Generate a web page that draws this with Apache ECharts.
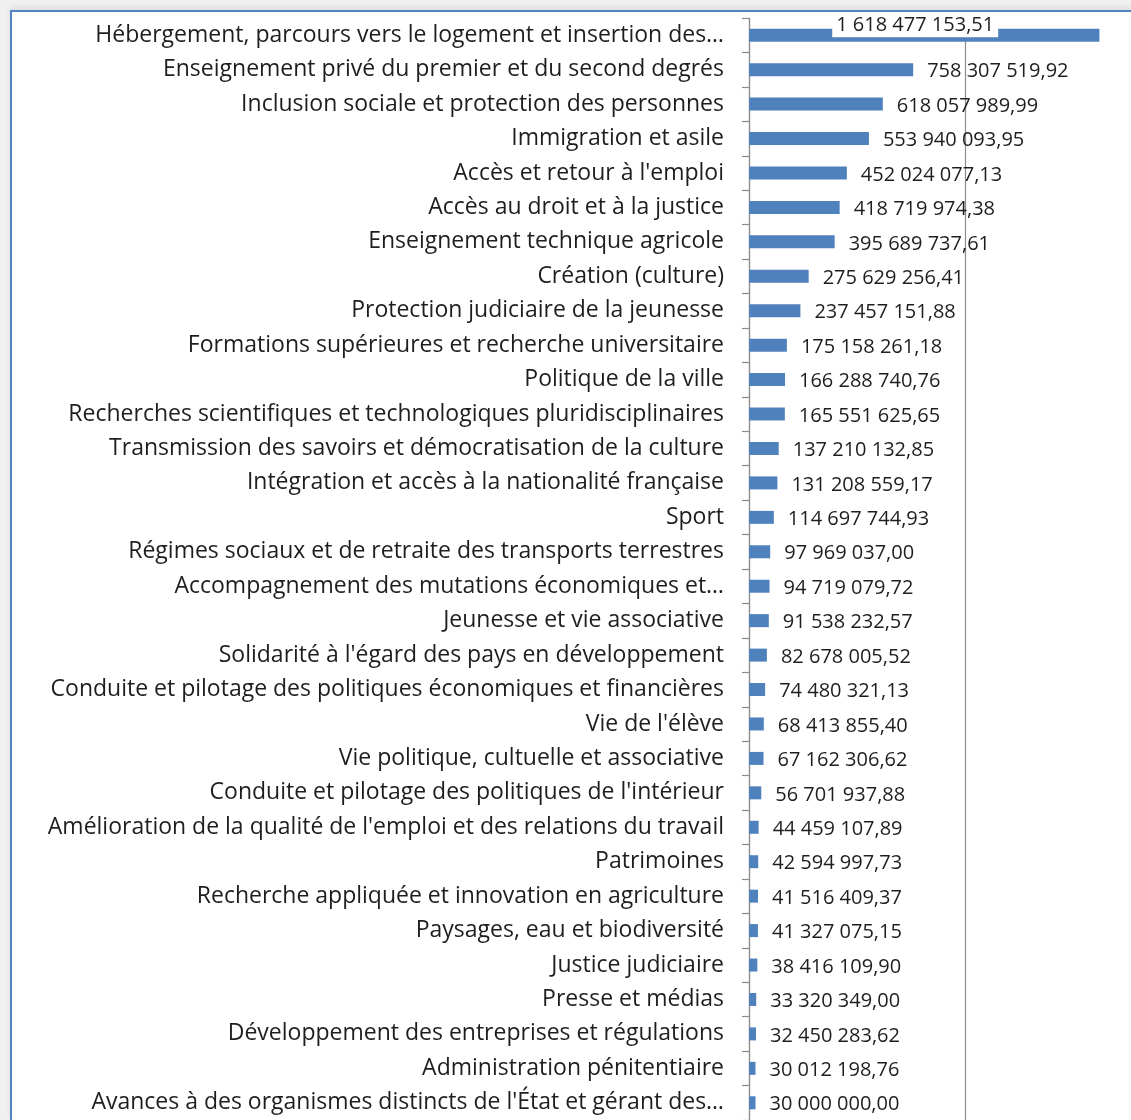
<!DOCTYPE html>
<html><head><meta charset="utf-8">
<script src="https://cdn.jsdelivr.net/npm/echarts@6/dist/echarts.min.js"></script>
<style>
html,body{margin:0;padding:0;width:1131px;height:1120px;background:#f0f0f0;overflow:hidden;}
#frame{position:absolute;left:10px;top:10px;width:1121px;height:1110px;background:#fff;border-left:2px solid #5282bf;border-top:2px solid #5282bf;box-sizing:border-box;box-shadow:0 -3px 6px rgba(0,0,0,0.08);}
#chart{position:absolute;left:0;top:0;width:1200px;height:1120px;}
</style></head><body>
<div id="frame"></div>
<div id="chart"></div>
<script>
const categories = [
"Hébergement, parcours vers le logement et insertion des…",
"Enseignement privé du premier et du second degrés",
"Inclusion sociale et protection des personnes",
"Immigration et asile",
"Accès et retour à l'emploi",
"Accès au droit et à la justice",
"Enseignement technique agricole",
"Création (culture)",
"Protection judiciaire de la jeunesse",
"Formations supérieures et recherche universitaire",
"Politique de la ville",
"Recherches scientifiques et technologiques pluridisciplinaires",
"Transmission des savoirs et démocratisation de la culture",
"Intégration et accès à la nationalité française",
"Sport",
"Régimes sociaux et de retraite des transports terrestres",
"Accompagnement des mutations économiques et…",
"Jeunesse et vie associative",
"Solidarité à l'égard des pays en développement",
"Conduite et pilotage des politiques économiques et financières",
"Vie de l'élève",
"Vie politique, cultuelle et associative",
"Conduite et pilotage des politiques de l'intérieur",
"Amélioration de la qualité de l'emploi et des relations du travail",
"Patrimoines",
"Recherche appliquée et innovation en agriculture",
"Paysages, eau et biodiversité",
"Justice judiciaire",
"Presse et médias",
"Développement des entreprises et régulations",
"Administration pénitentiaire",
"Avances à des organismes distincts de l'État et gérant des…"
];
const values = [
1618477153.51, 758307519.92, 618057989.99, 553940093.95, 452024077.13,
418719974.38, 395689737.61, 275629256.41, 237457151.88, 175158261.18,
166288740.76, 165551625.65, 137210132.85, 131208559.17, 114697744.93,
97969037.00, 94719079.72, 91538232.57, 82678005.52, 74480321.13,
68413855.40, 67162306.62, 56701937.88, 44459107.89, 42594997.73,
41516409.37, 41327075.15, 38416109.90, 33320349.00, 32450283.62,
30012198.76, 30000000.00
];
const axisMin = 0, axisMax = 2000000000, axisInterval = 1000000000;

function fmt(v){
  const s = v.toFixed(2).split('.');
  const i = s[0].replace(/\B(?=(\d{3})+(?!\d))/g, ' ');
  return i + ',' + s[1];
}
const FONT = 'Open Sans';
const data = values.map((v, idx) => {
  if (idx === 0) {
    return {value: v, label: {position: 'inside', offset: [-9, -9.5], backgroundColor: '#fff', padding: [0, 4, 3, 4]}};
  }
  return v;
});
const chart = echarts.init(document.getElementById('chart'), null, {renderer: 'canvas'});
chart.setOption({
  backgroundColor: 'transparent',
  animation: false,
  grid: {left: 749, right: 18, top: 18, bottom: 0, containLabel: false},
  xAxis: {
    type: 'value', min: axisMin, max: axisMax, interval: axisInterval,
    axisLabel: {show: false}, axisTick: {show: false}, axisLine: {show: false},
    splitLine: {show: true, lineStyle: {color: '#8c8c8c', width: 1.2}}
  },
  yAxis: {
    type: 'category', inverse: true, data: categories,
    axisLine: {show: true, lineStyle: {color: '#8c8c8c', width: 1.2}},
    axisTick: {show: true, length: 7, lineStyle: {color: '#8c8c8c', width: 1.2}},
    axisLabel: {color: '#1e1e1e', fontFamily: FONT, fontSize: 23, margin: 25}
  },
  series: [{
    type: 'bar', data: data, barWidth: 13,
    itemStyle: {color: '#4f81bd'},
    label: {show: true, position: 'right', distance: 14, color: '#1e1e1e', fontFamily: FONT, fontSize: 20,
      offset: [0, 2], formatter: p => fmt(p.value)}
  }]
});
</script>
</body></html>
